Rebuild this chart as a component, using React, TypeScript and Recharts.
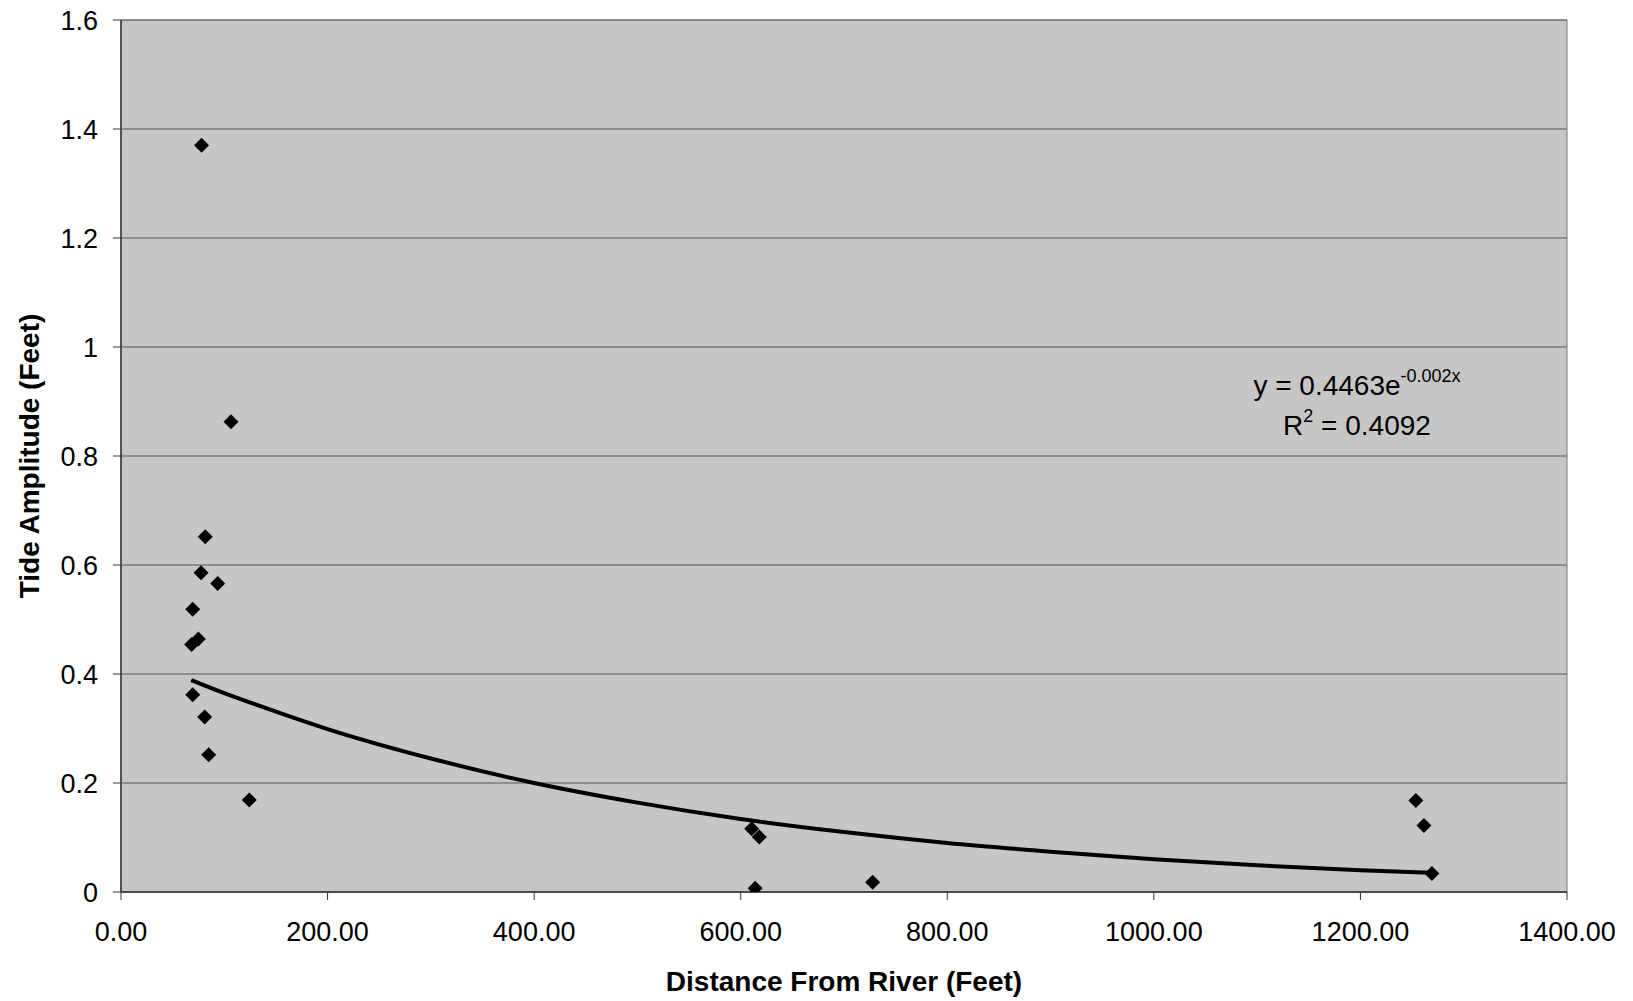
import React from 'react';
import { ComposedChart, Scatter, Line, XAxis, YAxis, CartesianGrid, Customized, ReferenceArea } from 'recharts';

const distance = [78, 106.5, 81.6, 77.5, 93.6, 69.4, 68.4, 74.9, 69.4, 81, 84.9, 124.2, 610.6, 618, 614, 727.7, 1253.7, 1261.5, 1269.2];
const amplitude = [1.37, 0.863, 0.652, 0.586, 0.566, 0.519, 0.454, 0.464, 0.362, 0.321, 0.252, 0.169, 0.116, 0.101, 0.007, 0.018, 0.168, 0.122, 0.034];

const trendDistance = [68, 100, 150, 200, 300, 400, 500, 600, 700, 800, 900, 1000, 1100, 1200, 1269];
const trendAmplitude = [0.389, 0.365, 0.331, 0.299, 0.245, 0.2, 0.164, 0.134, 0.11, 0.09, 0.074, 0.06, 0.049, 0.04, 0.035];

const xTicks = [0, 200, 400, 600, 800, 1000, 1200, 1400];
const yTicks = [0, 0.2, 0.4, 0.6, 0.8, 1, 1.2, 1.4, 1.6];

const xTitle = 'Distance From River (Feet)';
const yTitle = 'Tide Amplitude (Feet)';
const eqMain = 'y = 0.4463e';
const eqExp = '-0.002x';
const r2Label = 'R';
const r2Sup = '2';
const r2Value = ' = 0.4092';

const points = distance.map((x, i) => ({ x, y: amplitude[i] }));
const trend = trendDistance.map((x, i) => ({ x, y: trendAmplitude[i] }));

const FONT = '"Liberation Sans", Arial, sans-serif';

const Diamond = (props: any) => {
  const { cx, cy } = props;
  const r = 7.5;
  return <path d={`M${cx},${cy - r}L${cx + r},${cy}L${cx},${cy + r}L${cx - r},${cy}Z`} fill="#000" />;
};

const Annotations = () => (
  <g fontFamily={FONT} fill="#000">
    <text x={844} y={991} textAnchor="middle" fontSize={28} fontWeight="bold">{xTitle}</text>
    <text x={0} y={0} transform="translate(39,456) rotate(-90)" textAnchor="middle" fontSize={28} fontWeight="bold">{yTitle}</text>
    <text x={1357} y={395} textAnchor="middle" fontSize={28}>
      {eqMain}
      <tspan fontSize={18} dy={-13}>{eqExp}</tspan>
    </text>
    <text x={1357} y={435} textAnchor="middle" fontSize={28}>
      {r2Label}
      <tspan fontSize={18} dy={-13}>{r2Sup}</tspan>
      <tspan dy={13}>{r2Value}</tspan>
    </text>
  </g>
);

export default function App() {
  return (
    <div style={{ position: 'absolute', left: 0, top: 0, background: '#fff' }}>
      <ComposedChart width={1633} height={1001} margin={{ top: 20, right: 66, bottom: 0, left: 0 }}>
        <CartesianGrid vertical={false} horizontal={true} stroke="#555" strokeWidth={1} fill="#c6c6c6" fillOpacity={1} />
        <ReferenceArea x1={0} x2={1400} y1={0} y2={1.6} fill="none" stroke="#777" strokeWidth={1} ifOverflow="visible" />
        <XAxis
          type="number"
          dataKey="x"
          domain={[0, 1400]}
          ticks={xTicks}
          height={109}
          tickSize={8}
          tickMargin={22}
          tickFormatter={(v: number) => v.toFixed(2)}
          tick={{ fill: '#000', fontSize: 27, fontFamily: FONT }}
          axisLine={{ stroke: '#333', strokeWidth: 1.5 }}
          tickLine={{ stroke: '#333' }}
          allowDataOverflow
        />
        <YAxis
          type="number"
          dataKey="y"
          domain={[0, 1.6]}
          ticks={yTicks}
          width={121}
          tickSize={8}
          tickMargin={15}
          tick={{ fill: '#000', fontSize: 27, fontFamily: FONT }}
          axisLine={{ stroke: '#333', strokeWidth: 1.5 }}
          tickLine={{ stroke: '#333' }}
          allowDataOverflow
        />
        <Line
          data={trend}
          dataKey="y"
          type="monotone"
          stroke="#000"
          strokeWidth={4}
          dot={false}
          activeDot={false}
          isAnimationActive={false}
        />
        <Scatter data={points} dataKey="y" shape={<Diamond />} isAnimationActive={false} />
        <Customized component={Annotations} />
      </ComposedChart>
    </div>
  );
}
